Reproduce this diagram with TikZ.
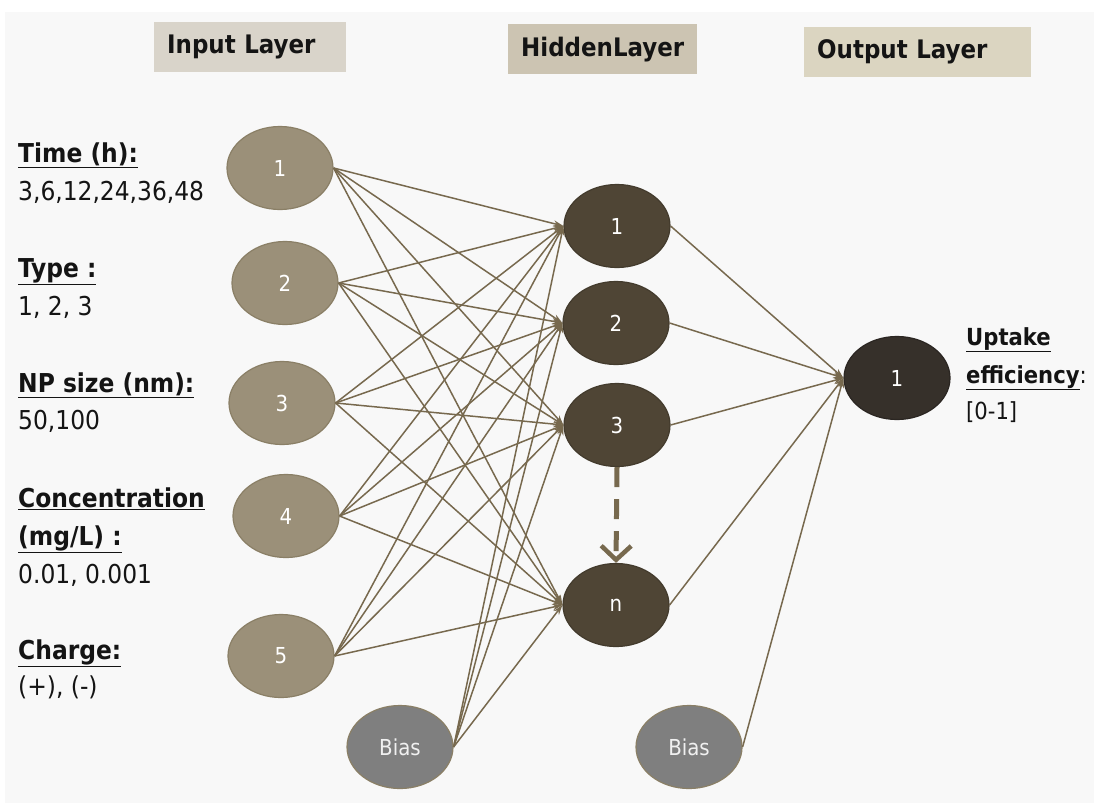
\documentclass[tikz,border=0pt]{standalone}
\usepackage{fontspec}
\setmainfont{DejaVu Sans Condensed}
\usetikzlibrary{shapes.geometric,arrows.meta}
\definecolor{bgc}{HTML}{F8F8F8}
\definecolor{edgec}{HTML}{77694E}
\definecolor{inpc}{HTML}{9B9079}
\definecolor{inpb}{HTML}{8A7F66}
\definecolor{hidc}{HTML}{4F4535}
\definecolor{outc}{HTML}{36302A}
\definecolor{biasc}{HTML}{7F7F7F}
\definecolor{hinp}{HTML}{D9D4CA}
\definecolor{hhid}{HTML}{CCC4B2}
\definecolor{hout}{HTML}{DBD5C1}
\definecolor{txtc}{HTML}{141414}
\begin{document}
\begin{tikzpicture}[x=1pt,y=-1pt,
  neuron/.style={ellipse, minimum width=106pt, minimum height=83pt, inner sep=0pt, line width=1.2pt,
    font=\fontsize{22}{26}\selectfont, text=white},
  inp/.style={neuron, fill=inpc, draw=inpb},
  hid/.style={neuron, fill=hidc, draw=hidc!85!black},
  outn/.style={neuron, fill=outc, draw=outc!80!black},
  bias/.style={neuron, fill=biasc, draw=inpb, text=white!94!black},
  lab/.style={inner sep=0pt, anchor=base west, text=txtc, font=\fontsize{26}{30}\selectfont},
  olab/.style={lab, font=\fontsize{23.5}{28}\selectfont},
  hdr/.style={rectangle, anchor=north west, inner sep=0pt, inner xsep=13pt, minimum height=50pt,
    align=left, text=txtc, font=\bfseries\fontsize{25.5}{30}\selectfont},
  edge/.style={draw=edgec, line width=1.5pt, -{Stealth[length=10pt,width=6.5pt]}},
]
\useasboundingbox (0,0) rectangle (1094,806);
\fill[white] (0,0) rectangle (1094,806);
\fill[bgc] (5,12) rectangle (1094,803);

% headers
\node[hdr, fill=hinp, text width=166pt] (hi) at (154,22) {Input Layer};
\node[hdr, fill=hhid, text width=163pt] (hh) at (508,24) {HiddenLayer};
\node[hdr, fill=hout, text width=201pt] (ho) at (804,27) {Output Layer};

% input nodes
\node[inp] (i1) at (280,168) {1};
\node[inp] (i2) at (285,283) {2};
\node[inp] (i3) at (282,403) {3};
\node[inp] (i4) at (286,516) {4};
\node[inp] (i5) at (281,656) {5};
\node[bias] (b1) at (400,747) {Bias};

% hidden nodes
\node[hid] (h1) at (617,226) {1};
\node[hid] (h2) at (616,323) {2};
\node[hid] (h3) at (617,425) {3};
\node[hid] (hn) at (616,605) {n};
\node[bias] (b2) at (689,747) {Bias};

% output node
\node[outn] (o) at (897,378) {1};

% connections
\foreach \i in {1,...,5}
  \foreach \h in {1,2,3,n}
    \draw[edge] (i\i.east) -- (h\h.west);
\foreach \h in {1,2,3,n}
  \draw[edge] (b1.east) -- (h\h.west);
\foreach \h in {1,2,3,n}
  \draw[edge] (h\h.east) -- (o.west);
\draw[edge] (b2.east) -- (o.west);

\draw[draw=edgec, line width=5pt, dash pattern=on 20pt off 12pt,
  -{Straight Barb[length=14pt,width=30pt,line width=4.5pt]}] (h3.south) -- (hn.north);

% input labels
\node[lab] (l1a) at (18,162) {\underline{\textbf{Time (h):}}};
\node[lab] (l1b) at (18,200) {3,6,12,24,36,48};
\node[lab] (l2a) at (18,277) {\underline{\textbf{Type :}}};
\node[lab] (l2b) at (18,315) {1, 2, 3};
\node[lab] (l3a) at (18,392) {\underline{\textbf{NP size (nm):}}};
\node[lab] (l3b) at (18,429) {50,100};
\node[lab] (l4a) at (18,507) {\underline{\textbf{Concentration}}};
\node[lab] (l4b) at (18,545) {\underline{\textbf{(mg/L) :}}};
\node[lab] (l4c) at (18,583) {0.01, 0.001};
\node[lab] (l5a) at (18,659) {\underline{\textbf{Charge:}}};
\node[lab] (l5b) at (18,695) {(+), (-)};

% output labels
\node[olab] (oa) at (966,345) {\underline{\textbf{Uptake}}};
\node[olab] (ob) at (966,383) {\underline{\textbf{efficiency}}:};
\node[olab] (oc) at (966,419) {[0-1]};
\end{tikzpicture}
\end{document}
